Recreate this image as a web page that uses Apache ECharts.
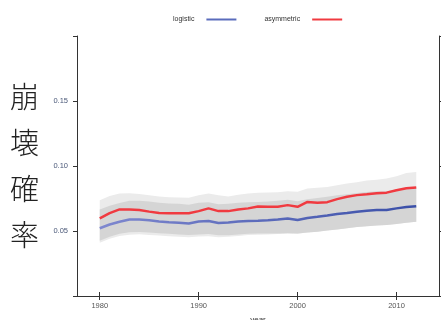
<!DOCTYPE html>
<html><head><meta charset="utf-8">
<script src="https://cdn.jsdelivr.net/npm/echarts@6/dist/echarts.min.js"></script>
<style>html,body{margin:0;padding:0;background:#fff}#c{width:441px;height:320px}</style>
</head><body><div id="c"></div>
<script>
var years = [1980,1981,1982,1983,1984,1985,1986,1987,1988,1989,1990,1991,1992,1993,1994,1995,1996,1997,1998,1999,2000,2001,2002,2003,2004,2005,2006,2007,2008,2009,2010,2011,2012];
var logistic = [.0521,.0550,.0571,.0588,.0588,.0582,.0573,.0567,.0564,.0557,.0573,.0577,.0561,.0565,.0573,.0577,.0579,.0582,.0588,.0596,.0584,.0600,.0609,.0619,.0630,.0638,.0648,.0655,.0661,.0661,.0674,.0684,.0691];
var asymmetric = [.0597,.0638,.0666,.0665,.0661,.0649,.0638,.0636,.0636,.0636,.0653,.0674,.0653,.0653,.0666,.0674,.0688,.0686,.0686,.0699,.0686,.0724,.0718,.0722,.0745,.0763,.0776,.0783,.0791,.0795,.0814,.0829,.0835];
var asymUpper = [.0737,.0770,.0789,.0790,.0785,.0775,.0765,.0760,.0757,.0755,.0775,.0789,.0775,.0765,.0778,.0789,.0795,.0797,.0798,.0805,.0801,.0827,.0832,.0839,.0852,.0865,.0875,.0888,.0895,.0903,.0922,.0946,.0954];
var asymLower = [.0410,.0440,.0462,.0472,.0475,.0470,.0465,.0460,.0456,.0452,.0458,.0460,.0452,.0455,.0462,.0469,.0472,.0474,.0476,.0480,.0478,.0488,.0495,.0503,.0512,.0521,.0530,.0537,.0543,.0546,.0554,.0564,.0571];
var logiUpper = [.0665,.0695,.0716,.0733,.0733,.0727,.0718,.0712,.0709,.0702,.0718,.0722,.0706,.0710,.0718,.0722,.0724,.0727,.0733,.0741,.0729,.0745,.0754,.0764,.0775,.0783,.0793,.0800,.0806,.0806,.0819,.0829,.0836];
var logiLower = [.0425,.0455,.0478,.0490,.0492,.0488,.0483,.0478,.0474,.0470,.0474,.0476,.0467,.0468,.0474,.0479,.0480,.0481,.0481,.0483,.0480,.0488,.0495,.0503,.0512,.0521,.0530,.0537,.0543,.0546,.0554,.0564,.0571];
var xTicks = [1980,1990,2000,2010];
var yLabel = '崩\n壊\n確\n率';

function pairs(a){return years.map(function(y,i){return [y,a[i]];});}
function bandData(lo,hi){return years.map(function(y,i){return [y,lo[i],hi[i]];});}
function bandRender(color){
  return function(params, api){
    if(params.dataIndex!==0) return;
    var top=[], bot=[];
    for(var i=0;i<years.length;i++){
      top.push(api.coord([api.value(0,i),api.value(2,i)]));
      bot.push(api.coord([api.value(0,i),api.value(1,i)]));
    }
    var pts = top.concat(bot.reverse());
    return {type:'polygon',shape:{points:pts},style:{fill:color,stroke:null}};
  };
}

var chart = echarts.init(document.getElementById('c'));
var axisCol = '#333';
var tickFont = 'Liberation Sans, Arial';
chart.setOption({
  animation:false,
  legend:{
    top:11, left:168, itemWidth:30, itemHeight:8, itemGap:28, align:'right',
    data:[{name:'logistic',icon:'path://M0,0L30,0L30,2L0,2Z'},{name:'asymmetric',icon:'path://M0,0L30,0L30,2L0,2Z'}],
    textStyle:{fontSize:7,color:'#333',fontFamily:tickFont,padding:[0,7,0,0]}
  },
  grid:{left:77,right:2,top:36,bottom:24,outerBoundsMode:'none',containLabel:false},
  xAxis:[{
    type:'value',min:1977.7,max:2014.3,
    name:'year',nameLocation:'middle',nameGap:20,
    nameTextStyle:{fontSize:8,color:'#333',fontFamily:tickFont},
    axisLine:{show:true,lineStyle:{color:axisCol}},
    axisTick:{show:true,length:4,lineStyle:{color:axisCol},customValues:xTicks},
    axisLabel:{show:true,fontSize:7.5,color:'#555',margin:6,fontFamily:tickFont,customValues:xTicks,
      formatter:function(v){return String(Math.round(v));}},
    splitLine:{show:false}
  },{
    type:'value',position:'top',min:1977.7,max:2014.3,
    axisLine:{show:true,lineStyle:{color:axisCol}},
    axisTick:{show:true,length:4,lineStyle:{color:axisCol},customValues:xTicks},
    axisLabel:{show:false},splitLine:{show:false}
  }],
  yAxis:[{
    type:'value',min:0,max:0.2,interval:0.05,
    name:yLabel,nameLocation:'middle',nameRotate:0,nameGap:38,
    nameTextStyle:{fontSize:29,lineHeight:46,color:'#222',fontWeight:300,fontFamily:'Noto Sans CJK JP',padding:[4,0,0,0]},
    axisLine:{show:true,lineStyle:{color:axisCol}},
    axisTick:{show:true,length:4,lineStyle:{color:axisCol}},
    axisLabel:{fontSize:7.5,color:'#4a5878',margin:9,fontFamily:tickFont,
      formatter:function(v){return (v>0.001&&v<0.199)?v.toFixed(2):'';}},
    splitLine:{show:false}
  },{
    type:'value',position:'right',min:0,max:0.2,interval:0.05,
    axisLine:{show:true,lineStyle:{color:axisCol}},
    axisTick:{show:true,length:4,lineStyle:{color:axisCol}},
    axisLabel:{show:false},splitLine:{show:false}
  }],
  series:[
    {name:'asymBand',type:'custom',data:bandData(asymLower,asymUpper),renderItem:bandRender('#ebebeb'),encode:{x:0,y:[1,2]},silent:true,z:1},
    {name:'logiBand',type:'custom',data:bandData(logiLower,logiUpper),renderItem:bandRender('#d5d5d5'),encode:{x:0,y:[1,2]},silent:true,z:2},
    {name:'logistic',type:'line',data:pairs(logistic),symbol:'none',z:5,
      itemStyle:{color:'#5a6cbc'},
      lineStyle:{width:2.5,color:new echarts.graphic.LinearGradient(0,0,1,0,[{offset:0,color:'#7f88cf'},{offset:1,color:'#3a4fa8'}])}},
    {name:'asymmetric',type:'line',data:pairs(asymmetric),symbol:'none',z:6,
      itemStyle:{color:'#f03a40'},
      lineStyle:{width:2.5,color:'#f03a40'}}
  ]
});
</script></body></html>
